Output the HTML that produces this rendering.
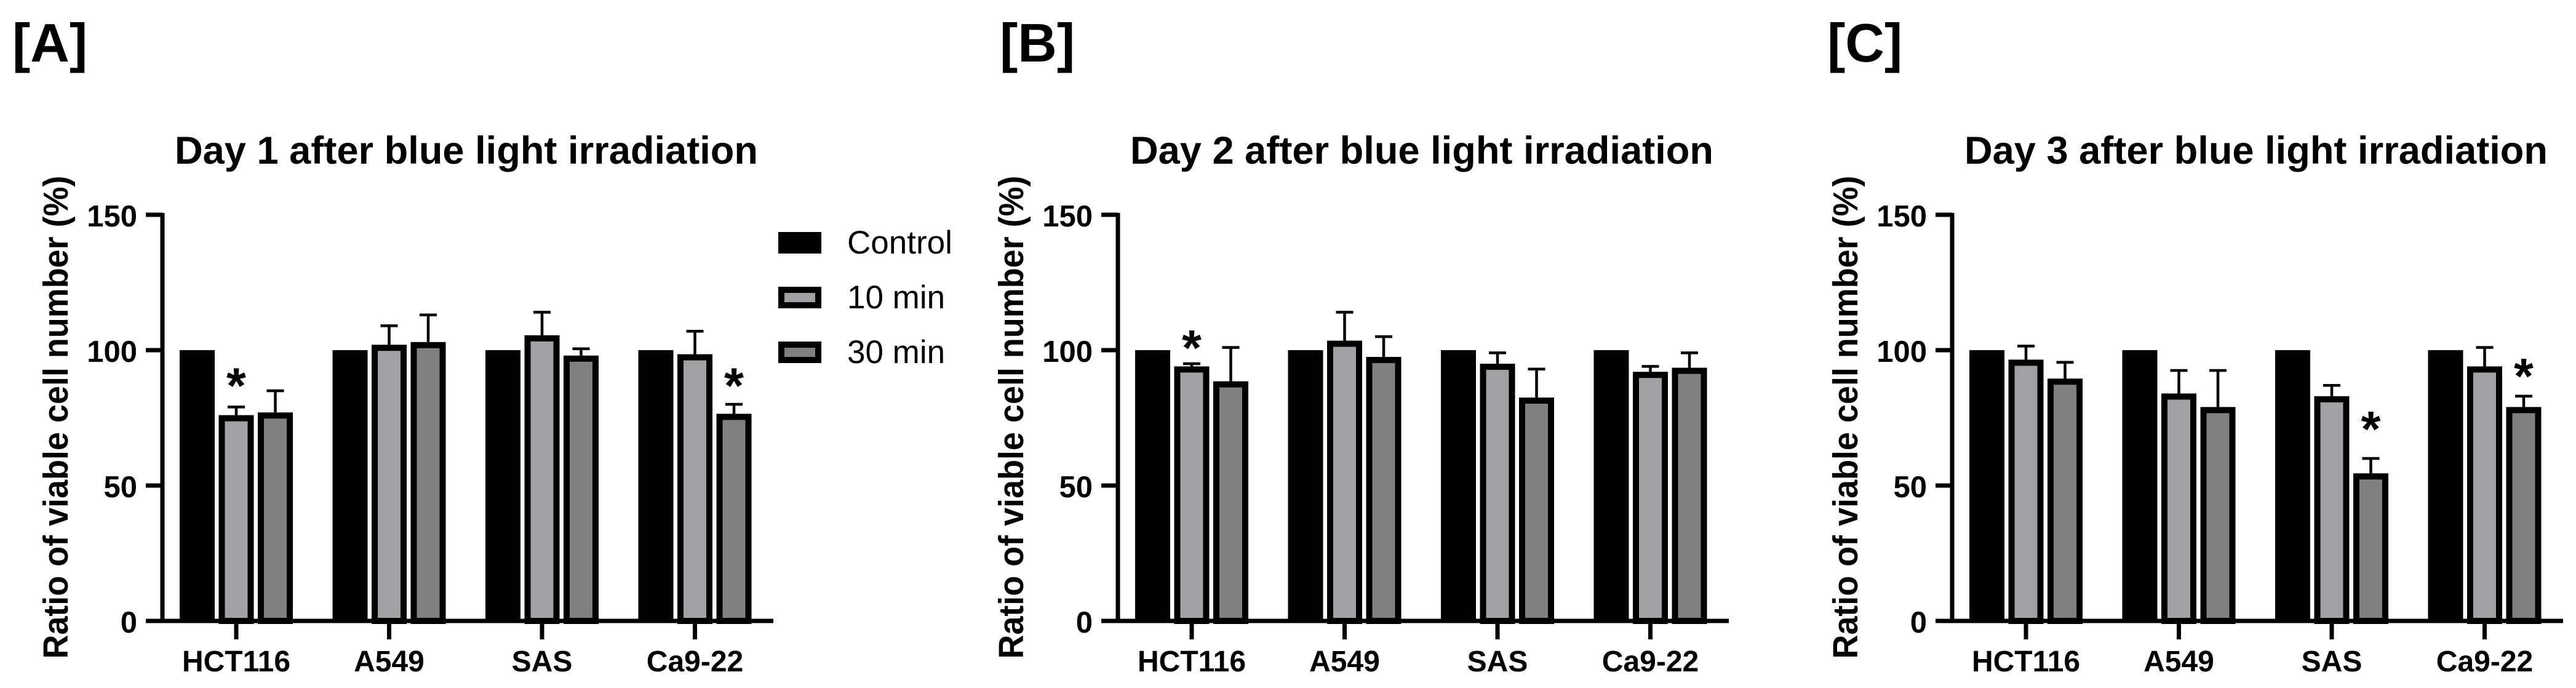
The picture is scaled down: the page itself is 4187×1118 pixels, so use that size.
<!DOCTYPE html>
<html><head><meta charset="utf-8"><style>
html,body{margin:0;padding:0;background:#fff;}
svg{display:block;font-family:"Liberation Sans",Arial,sans-serif;}
</style></head><body>
<svg id="fig" width="4187" height="1118" viewBox="0 0 4187 1118" xmlns="http://www.w3.org/2000/svg"></svg>
<script>
const categories = ["HCT116","A549","SAS","Ca9-22"];
const seriesNames = ["Control","10 min","30 min"];
const yTicks = [0,50,100,150];
const panelLetters = ["[A]","[B]","[C]"];
const panelTitles = ["Day 1 after blue light irradiation","Day 2 after blue light irradiation","Day 3 after blue light irradiation"];
// values per panel: [category][series]
const day1Means = [[100,76,77],[100,102,103],[100,105.5,98],[100,98.5,76.5]];
const day1Err   = [[0,79,85],[0,109,113],[0,114,100.5],[0,107,80]];
const day1Stars = [[null,90,null],[null,null,null],[null,null,null],[null,null,90]];
const day2Means = [[100,94,88.5],[100,103.5,97.5],[100,95,82.5],[100,92,93.5]];
const day2Err   = [[0,95,101],[0,114,105],[0,99,93],[0,94,99]];
const day2Stars = [[null,104,null],[null,null,null],[null,null,null],[null,null,null]];
const day3Means = [[100,96.5,89.5],[100,84,79],[100,83,54.5],[100,94,79]];
const day3Err   = [[0,101.5,95.5],[0,92.5,92.5],[0,87,60],[0,101,83]];
const day3Stars = [[null,null,null],[null,null,null],[null,null,74],[null,null,93.5]];

const panelsMeans=[day1Means,day2Means,day3Means];
const panelsErr=[day1Err,day2Err,day3Err];
const panelsStars=[day1Stars,day2Stars,day3Stars];
const axisX=[264,1817,3173];
const letterX=[20,1625,2970];
const fills=["#000000","#a1a1a5","#808080"];
const NS="http://www.w3.org/2000/svg";
const svg=document.getElementById('fig');
const Y0=1009, YTOP=349, YMAX=150;
function y(v){return Y0-(Y0-YTOP)*v/YMAX;}
function mk(tag,attrs,parent){const e=document.createElementNS(NS,tag);for(const k in attrs)e.setAttribute(k,attrs[k]);(parent||svg).appendChild(e);return e;}

for(let p=0;p<3;p++){
  const ax=axisX[p];
  const g=mk('g',{});
  
  
  function xc(i){return ax+120+248.5*i;}
  let t=mk('text',{x:letterX[p],y:100,'font-size':88,'font-weight':'bold'},g);
  t.textContent=panelLetters[p];
  
  
  t=mk('text',{x:ax+20,y:266,'font-size':63,'font-weight':'bold',textLength:948,lengthAdjust:'spacingAndGlyphs'},g);
  t.textContent=panelTitles[p];
  
  
  t=mk('text',{x:0,y:0,'font-size':57,'font-weight':'bold','text-anchor':'middle',textLength:785,lengthAdjust:'spacingAndGlyphs',transform:'translate('+(ax-154)+',678) rotate(-90)'},g);
  t.textContent='Ratio of viable cell number (%)';
  
  
  // bars
  const M=panelsMeans[p],E=panelsErr[p],S=panelsStars[p];
  for(let i=0;i<categories.length;i++){
    for(let s=0;s<3;s++){
      const cx=xc(i)+(s-1)*63.5, v=M[i][s];
      if(s>0 && E[i][s]>v){
        let l=mk('line',{x1:cx,x2:cx,y1:y(v),y2:y(E[i][s]),stroke:'#000','stroke-width':4.5},g);
        
        
        l=mk('line',{x1:cx-14,x2:cx+14,y1:y(E[i][s]),y2:y(E[i][s]),stroke:'#000','stroke-width':4.5},g);
        
        
      }
      let r;
      if(s===0){
        r=mk('rect',{x:cx-28.5,y:y(v),width:57,height:Y0-y(v),fill:fills[0]},g);
      }else{
        r=mk('rect',{x:cx-23.5,y:y(v)+5,width:47,height:Y0-y(v)-5,fill:fills[s],stroke:'#000','stroke-width':10},g);
      }
      
      
      if(S[i][s]!==null){
        const st=mk('text',{x:cx,y:y(S[i][s])+42,'font-size':82,'font-weight':'bold','text-anchor':'middle'},g);
        st.textContent='*';
        
        
      }
    }
    let tk=mk('line',{x1:xc(i),x2:xc(i),y1:Y0,y2:Y0+30,stroke:'#000','stroke-width':7},g);
    
    
    const lb=mk('text',{x:xc(i),y:1091,'font-size':48,'font-weight':'bold','text-anchor':'middle'},g);
    lb.textContent=categories[i];
    
    
  }
  // axes
  let a=mk('line',{x1:ax,x2:ax,y1:YTOP-3,y2:Y0+3.5,stroke:'#000','stroke-width':7},g);
  
  
  a=mk('line',{x1:ax-27,x2:ax+993,y1:Y0,y2:Y0,stroke:'#000','stroke-width':7},g);
  
  
  for(const v of yTicks){
    const tk=mk('line',{x1:ax-27,x2:ax,y1:y(v),y2:y(v),stroke:'#000','stroke-width':7},g);
    
    
    const tl=mk('text',{x:ax-41,y:y(v)+19,'font-size':49,'font-weight':'bold','text-anchor':'end'},g);
    tl.textContent=String(v);
    
    
  }
}
// legend
const lg=mk('g',{});


const legY=[377,466,555];
for(let s=0;s<3;s++){
  let r;
  if(s===0) r=mk('rect',{x:1265,y:legY[s],width:70,height:35,fill:'#000'},lg);
  else r=mk('rect',{x:1270,y:legY[s]+5,width:60,height:25,fill:fills[s],stroke:'#000','stroke-width':10},lg);
  
  
  const t=mk('text',{x:1377,y:legY[s]+35,'font-size':53},lg);
  t.textContent=seriesNames[s];
  
  
}
</script>
</body></html>
